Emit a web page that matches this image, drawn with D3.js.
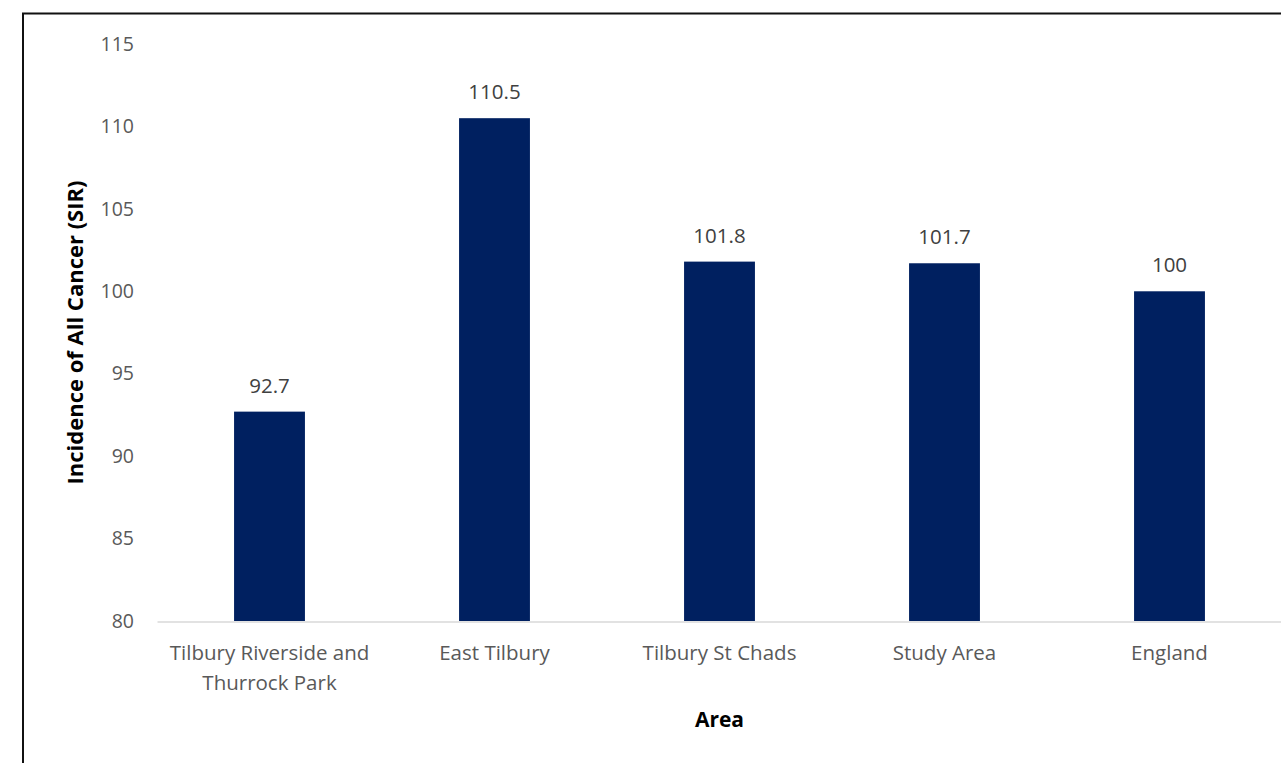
<!DOCTYPE html>
<html>
<head>
<meta charset="utf-8">
<script src="https://cdn.jsdelivr.net/npm/d3@7"></script>
<style>
  html, body { margin: 0; padding: 0; background: #fff; overflow: hidden; }
  text { font-family: "Open Sans", Lato, sans-serif; }
</style>
</head>
<body>
<div id="chart"></div>
<script>
var areas = ["Tilbury Riverside and|Thurrock Park", "East Tilbury", "Tilbury St Chads", "Study Area", "England"];
var sirValues = [92.7, 110.5, 101.8, 101.7, 100];
var yTicks = [80, 85, 90, 95, 100, 105, 110, 115];

var width = 1281, height = 763;
var margin = {top: 44, right: -1, bottom: 142, left: 157};
var fontFamily = "'Open Sans', Lato, sans-serif";

var svg = d3.select("#chart").append("svg")
    .attr("width", width)
    .attr("height", height);

// outer frame (cut off at right and bottom)
svg.append("rect")
    .attr("x", 23)
    .attr("y", 13.5)
    .attr("width", 1400)
    .attr("height", 900)
    .style("fill", "none")
    .style("stroke", "#111")
    .style("stroke-width", 2);

var x = d3.scaleBand()
    .domain(areas)
    .range([margin.left, width - margin.right])
    .paddingInner(0.685)
    .paddingOuter(0.3425);

var y = d3.scaleLinear()
    .domain([80, 115])
    .range([height - margin.bottom, margin.top]);

// y tick labels
var yAxis = svg.append("g")
    .attr("transform", `translate(${margin.left}, 0)`)
    .call(d3.axisLeft(y).tickValues(yTicks).tickSize(0).tickPadding(23));
yAxis.select(".domain").remove();
yAxis.selectAll("text")
    .style("font-family", fontFamily)
    .style("font-size", "19.5px")
    .style("fill", "#595959");

// bars
svg.append("g").selectAll("rect")
    .data(sirValues)
    .enter()
    .append("rect")
    .attr("x", (d, i) => x(areas[i]))
    .attr("y", d => y(d))
    .attr("width", x.bandwidth())
    .attr("height", d => y(80) - y(d))
    .style("fill", "#002060");

// value labels
svg.append("g").selectAll("text")
    .data(sirValues)
    .enter()
    .append("text")
    .attr("x", (d, i) => x(areas[i]) + x.bandwidth() / 2)
    .attr("y", d => y(d) - 19)
    .style("text-anchor", "middle")
    .style("font-size", "20.5px")
    .style("fill", "#404040")
    .text(d => d);

// x axis line + category labels
var xAxis = svg.append("g")
    .attr("transform", `translate(0, ${y(80) + 0.5})`)
    .call(d3.axisBottom(x).tickSize(0).tickPadding(0));
xAxis.select(".domain")
    .style("stroke", "#d9d9d9")
    .style("stroke-width", 1.5);
xAxis.selectAll(".tick text").remove();
xAxis.selectAll(".tick").each(function(d) {
    var lines = d.split("|");
    var t = d3.select(this).append("text")
        .attr("y", 38)
        .style("text-anchor", "middle")
        .style("font-family", fontFamily)
        .style("font-size", "20.5px")
        .style("fill", "#595959");
    lines.forEach((line, i) => {
        t.append("tspan")
            .attr("x", 0)
            .attr("dy", i === 0 ? 0 : 30)
            .text(line);
    });
});

// axis titles
svg.append("text")
    .attr("x", (margin.left + width - margin.right) / 2)
    .attr("y", 727)
    .style("text-anchor", "middle")
    .style("font-size", "21px")
    .style("font-weight", "bold")
    .style("fill", "#000")
    .text("Area");

svg.append("text")
    .attr("transform", `translate(83, ${(y(80) + y(115)) / 2}) rotate(-90)`)
    .style("text-anchor", "middle")
    .style("font-size", "22px")
    .style("font-weight", "bold")
    .style("fill", "#000")
    .text("Incidence of All Cancer (SIR)");
</script>
</body>
</html>
